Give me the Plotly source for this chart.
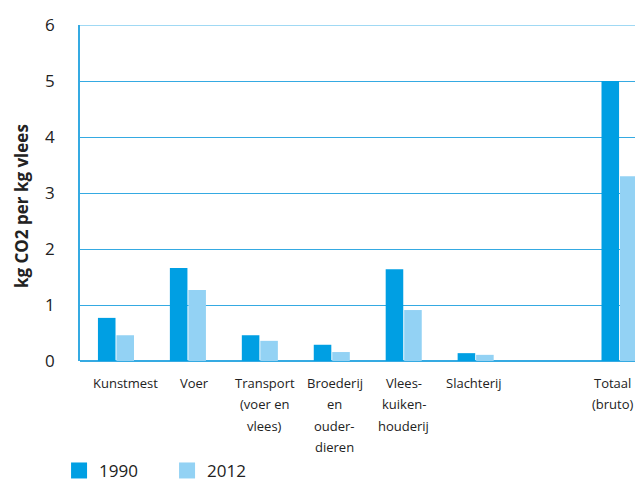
import plotly.graph_objects as go

# CO2 footprint of broiler meat per chain step
categories = ["Kunstmest", "Voer", "Transport", "Broederij", "Vlees", "Slachterij", "", "Totaal"]
label_lines = [
    ["Kunstmest"],
    ["Voer"],
    ["Transport", "(voer en", "vlees)"],
    ["Broederij", "en", "ouder-", "dieren"],
    ["Vlees-", "kuiken-", "houderij"],
    ["Slachterij"],
    [],
    ["Totaal", "(bruto)"],
]
series_names = ["1990", "2012"]
values_1990 = [0.77, 1.66, 0.46, 0.29, 1.64, 0.14, None, 5.0]
values_2012 = [0.46, 1.27, 0.36, 0.16, 0.91, 0.11, None, 3.30]
y_ticks = [0, 1, 2, 3, 4, 5, 6]

# horizontal nudges of the category labels (px)
label_shift = [10, 7, 5, 3, 0, -2, 0, -7]

FONT = "Open Sans"
TEXT = "#222222"
BLUE = "#009fe3"
LIGHT = "#93d2f4"
GRID = "#35aae2"
colors = [BLUE, LIGHT]

fig = go.Figure()
for name, vals, col in zip(series_names, [values_1990, values_2012], colors):
    fig.add_trace(go.Bar(name=name, x=categories, y=vals, marker_color=col,
                         marker_line_width=0, showlegend=False))
# larger square swatches for the legend
for name, col in zip(series_names, colors):
    fig.add_trace(go.Scatter(name=name, x=[None], y=[None], mode="markers",
                             marker=dict(symbol="square", size=16, color=col),
                             showlegend=True))

annotations = []
for i, lines in enumerate(label_lines):
    for j, line in enumerate(lines):
        annotations.append(dict(
            x=categories[i], xref="x", y=0, yref="paper",
            yshift=-22 - 21.3 * j, xshift=label_shift[i],
            text=line, showarrow=False, xanchor="center", yanchor="middle",
            font=dict(family=FONT, size=13, color=TEXT),
        ))
annotations.append(dict(
    text="<b>kg CO2 per kg vlees</b>", textangle=-90, showarrow=False,
    xref="paper", yref="paper", x=-0.1063, y=0.461,
    xanchor="center", yanchor="middle",
    font=dict(family=FONT, size=17, color=TEXT),
))

fig.update_layout(
    width=635, height=483,
    margin=dict(l=80, r=0, t=25, b=122, autoexpand=False),
    paper_bgcolor="white", plot_bgcolor="white",
    barmode="group", bargap=0.486, bargroupgap=0.05,
    font=dict(family=FONT, color=TEXT),
    showlegend=True,
    legend=dict(orientation="h", xref="container", yref="container",
                x=0.093, xanchor="left", y=0.025, yanchor="middle",
                font=dict(family=FONT, size=17, color=TEXT),
                itemwidth=30, itemsizing="trace", traceorder="normal", entrywidth=63),
    xaxis=dict(
        categoryorder="array", categoryarray=categories,
        range=[-0.5, 7.215], showticklabels=False, ticks="",
        showgrid=False, zeroline=False, showline=False, fixedrange=True,
    ),
    yaxis=dict(
        range=[0, 6], tickvals=y_ticks, ticktext=[str(v) for v in y_ticks],
        tickfont=dict(family=FONT, size=17, color=TEXT),
        ticklabelstandoff=20,
        showgrid=True, gridcolor=GRID, gridwidth=1,
        zeroline=True, zerolinecolor=GRID, zerolinewidth=1.5,
        showline=True, linecolor=GRID, linewidth=1.5,
    ),
    shapes=[dict(type="line", xref="paper", x0=0, x1=1, yref="y", y0=6, y1=6,
                 line=dict(color="#80cdf0", width=1.5), layer="below")],
    annotations=annotations,
)

fig.write_html("out.html")
